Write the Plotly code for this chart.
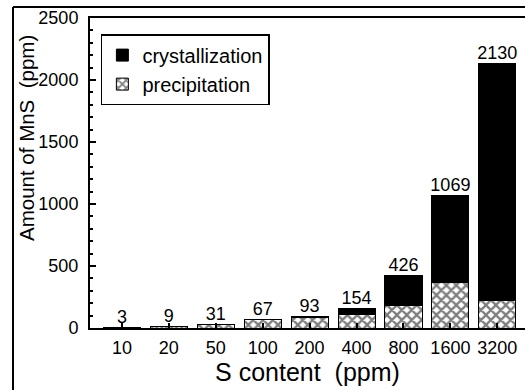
import plotly.graph_objects as go

categories = ["10", "20", "50", "100", "200", "400", "800", "1600", "3200"]
precipitation = [3, 9, 31, 67, 85, 107, 180, 370, 225]
crystallization = [0, 0, 0, 0, 8, 47, 246, 699, 1905]
totals = [3, 9, 31, 67, 93, 154, 426, 1069, 2130]
total_labels = ["3", "9", "31", "67", "93", "154", "426", "1069", "2130"]

FONT = "Liberation Sans, Arial, Helvetica, sans-serif"

fig = go.Figure()
fig.add_trace(go.Bar(
    x=categories, y=precipitation, name="precipitation",
    marker=dict(color="white", line=dict(color="black", width=1),
                pattern=dict(shape="x", fgcolor="black", bgcolor="white",
                             size=7, solidity=0.55, fillmode="overlay")),
    width=0.79,
))
fig.add_trace(go.Bar(
    x=categories, y=crystallization, name="crystallization",
    marker=dict(color="black", line=dict(color="black", width=1)),
    width=0.79,
))
fig.add_trace(go.Scatter(
    x=categories, y=totals, mode="text", text=total_labels,
    textposition="top center", showlegend=False,
    textfont=dict(size=18, color="black", family=FONT),
    cliponaxis=False,
))

fig.update_layout(
    width=525, height=390,
    margin=dict(l=90, r=0, t=18, b=62),
    barmode="stack",
    plot_bgcolor="white", paper_bgcolor="white",
    font=dict(family=FONT, color="black", size=18),
    showlegend=True,
    legend=dict(
        x=0.025, y=0.948, xanchor="left", yanchor="top",
        traceorder="reversed",
        bordercolor="black", borderwidth=1.5, bgcolor="white",
        font=dict(size=20, family=FONT, color="black"),
        itemwidth=30, tracegroupgap=0,
    ),
    xaxis=dict(
        type="category", range=[-0.68, 8.59],
        showline=True, linecolor="black", linewidth=2, mirror=True,
        ticks="inside", ticklen=5, tickcolor="black", tickwidth=1.5,
        showgrid=False, zeroline=False,
        tickfont=dict(size=18), ticklabelstandoff=2,
        title=dict(text="S content  (ppm)", font=dict(size=25), standoff=4),
    ),
    yaxis=dict(
        range=[0, 2500], tickvals=[0, 500, 1000, 1500, 2000, 2500],
        showline=True, linecolor="black", linewidth=2, mirror=False,
        ticks="inside", ticklen=6, tickcolor="black", tickwidth=1.5,
        minor=dict(ticks="inside", ticklen=3, tickcolor="black", dtick=100, showgrid=False),
        showgrid=False, zeroline=False,
        tickfont=dict(size=18), ticklabelstandoff=6,
    ),
    annotations=[
        dict(text="Amount of MnS  (ppm)", textangle=-90, showarrow=False,
             xref="paper", yref="paper", x=(26 - 90) / 435, y=(328 - 138) / 310,
             xanchor="center", yanchor="middle", font=dict(size=20.5, family=FONT, color="black")),
    ],
    shapes=[
        dict(type="line", xref="paper", yref="paper",
             x0=(13 - 90) / 435, x1=(13 - 90) / 435, y0=-0.3, y1=(328 - 7) / 310,
             line=dict(color="black", width=2)),
        dict(type="line", xref="paper", yref="paper",
             x0=(13 - 90) / 435, x1=1.05, y0=(328 - 7) / 310, y1=(328 - 7) / 310,
             line=dict(color="black", width=2)),
    ],
)

fig.write_html("out.html")
